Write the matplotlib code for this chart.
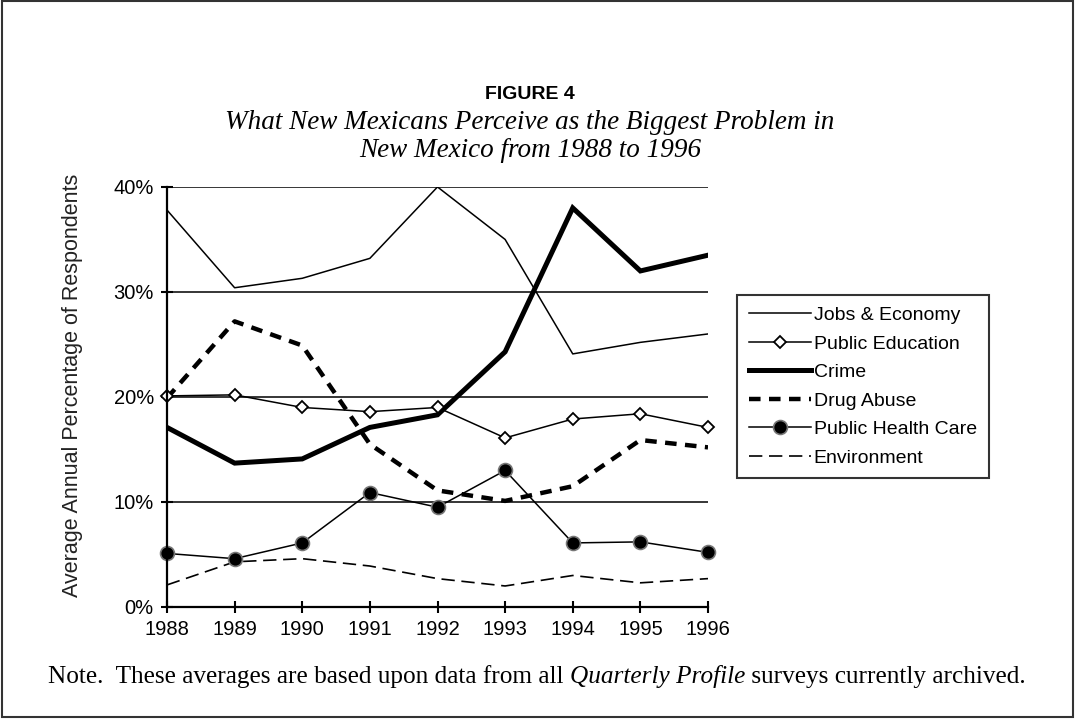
import matplotlib
matplotlib.use("Agg")
import matplotlib.pyplot as plt
from matplotlib.ticker import FuncFormatter
from matplotlib.patches import Rectangle

years = [1988, 1989, 1990, 1991, 1992, 1993, 1994, 1995, 1996]
jobs_economy = [37.8, 30.4, 31.3, 33.2, 40.0, 35.0, 24.1, 25.2, 26.0]
public_education = [20.1, 20.2, 19.0, 18.6, 19.0, 16.1, 17.9, 18.4, 17.1]
crime = [17.1, 13.7, 14.1, 17.1, 18.3, 24.3, 38.0, 32.0, 33.5]
drug_abuse = [19.9, 27.2, 24.9, 15.5, 11.1, 10.1, 11.5, 15.9, 15.2]
public_health = [5.1, 4.6, 6.1, 10.9, 9.5, 13.0, 6.1, 6.2, 5.2]
environment = [2.1, 4.3, 4.6, 3.9, 2.7, 2.0, 3.0, 2.3, 2.7]
y_ticks = [0, 10, 20, 30, 40]

SANS = "Liberation Sans"
SERIF = "Liberation Serif"

fig = plt.figure(figsize=(10.76, 7.19), dpi=100)
fig.patch.set_facecolor("white")

# outer frame
fig.patches.append(Rectangle((0.002, 0.003), 0.995, 0.995, transform=fig.transFigure,
                             fill=False, edgecolor="#333333", linewidth=1.5))

ax = fig.add_axes([0.1552, 0.1558, 0.5028, 0.5842])
ax.set_xlim(1988, 1996)
ax.set_ylim(0, 40)

for v in y_ticks[1:]:
    ax.axhline(v, color="black", linewidth=1.1, zorder=1)

ax.plot(years, jobs_economy, color="black", linewidth=1.1, label="Jobs & Economy", zorder=3)
ax.plot(years, public_education, color="black", linewidth=1.1, marker="D", markersize=6.5,
        markerfacecolor="white", markeredgecolor="black", markeredgewidth=1.3,
        label="Public Education", zorder=5, clip_on=False)
ax.plot(years, crime, color="black", linewidth=3.6, label="Crime", zorder=4,
        solid_joinstyle="miter")
ax.plot(years, drug_abuse, color="black", linewidth=3.2, linestyle=(0, (2.6, 1.9)),
        label="Drug Abuse", zorder=4)
ax.plot(years, public_health, color="black", linewidth=1.1, marker="o", markersize=10,
        markerfacecolor="black", markeredgecolor="#777777", markeredgewidth=1.2,
        label="Public Health Care", zorder=6, clip_on=False)
ax.plot(years, environment, color="black", linewidth=1.2, linestyle=(0, (8, 4)),
        label="Environment", zorder=3)

for s in ["top", "right"]:
    ax.spines[s].set_visible(False)
for s in ["left", "bottom"]:
    ax.spines[s].set_linewidth(1.6)
    ax.spines[s].set_zorder(7)

ax.set_xticks(years)
ax.set_yticks(y_ticks)
ax.yaxis.set_major_formatter(FuncFormatter(lambda v, p: f"{int(v)}%"))
ax.tick_params(direction="inout", length=9, width=1.5, labelsize=14.5, pad=5)
for lbl in ax.get_xticklabels() + ax.get_yticklabels():
    lbl.set_fontfamily(SANS)

ax.set_ylabel("Average Annual Percentage of Respondents", fontsize=15.5,
              fontfamily=SANS, color="#222222")
ax.yaxis.set_label_coords(-0.155, 0.528)

leg = fig.legend(loc="upper left", bbox_to_anchor=(0.685, 0.590), frameon=True,
                 fancybox=False, edgecolor="black", prop={"family": SANS, "size": 14},
                 handlelength=3.2, handletextpad=0.15, labelspacing=0.56,
                 borderpad=0.6, borderaxespad=0)
leg.get_frame().set_linewidth(1.5)

fig.text(0.4925, 0.869, "FIGURE 4", ha="center", va="center", fontsize=14,
         fontweight="bold", fontfamily=SANS)
fig.text(0.4925, 0.830, "What New Mexicans Perceive as the Biggest Problem in",
         ha="center", va="center", fontsize=19.5, style="italic", fontfamily=SERIF)
fig.text(0.4925, 0.791, "New Mexico from 1988 to 1996",
         ha="center", va="center", fontsize=19.5, style="italic", fontfamily=SERIF)

# note line with an italic title inside
fig.canvas.draw()
renderer = fig.canvas.get_renderer()
parts = [("Note.  These averages are based upon data from all ", "normal"),
         ("Quarterly Profile", "italic"),
         (" surveys currently archived.", "normal")]
x = 48 / 1076
for txt, st in parts:
    t = fig.text(x, 1 - 677 / 719, txt, ha="left", va="center", fontsize=18.2,
                 style=st, fontfamily=SERIF)
    bb = t.get_window_extent(renderer=renderer)
    x += bb.width / fig.bbox.width

fig.savefig("out.png", dpi=100, facecolor="white")
